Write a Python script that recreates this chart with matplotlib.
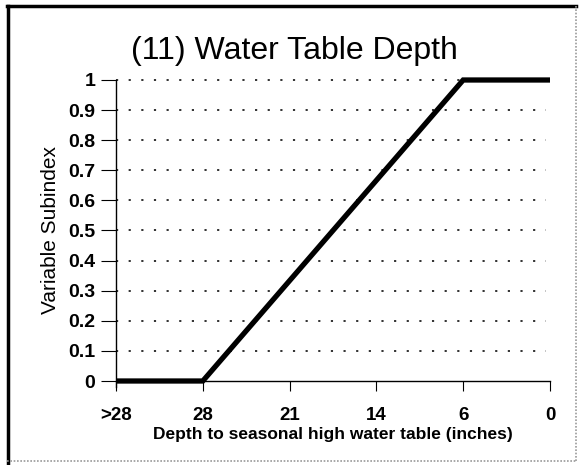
import matplotlib
matplotlib.use("Agg")
import matplotlib.pyplot as plt
from matplotlib.lines import Line2D

# Data
tick_labels = [">28", "28", "21", "14", "6", "0"]
tick_pos = [0, 1, 2, 3, 4, 5]
line_x = [0, 1, 4, 5]          # positions: >28, 28, 6, 0
line_y = [0.0, 0.0, 1.0, 1.0]
y_ticks = [0, 0.1, 0.2, 0.3, 0.4, 0.5, 0.6, 0.7, 0.8, 0.9, 1]
y_labels = ["0", "0.1", "0.2", "0.3", "0.4", "0.5", "0.6", "0.7", "0.8", "0.9", "1"]

W, H = 579, 465
fig = plt.figure(figsize=(W / 100, H / 100), dpi=100)
plt.rcParams['font.family'] = ['Liberation Sans', 'DejaVu Sans']

x0, x1 = 116, 550
ytop, ybot = 80, 381
ax = fig.add_axes([x0 / W, (H - ybot) / H, (x1 - x0) / W, (ybot - ytop) / H])
ax.set_xlim(0, 5)
ax.set_ylim(0, 1)

# grid lines (dotted), stopping a little short of the right end
for yv in y_ticks[1:]:
    ax.plot([0, 4.95], [yv, yv], color="#222222", lw=1.3,
            linestyle=(0, (1.2, 5.8)), zorder=1, clip_on=False)

ax.plot(line_x, line_y, color="black", lw=3.8, solid_capstyle="butt",
        solid_joinstyle="miter", zorder=3, clip_on=False)

for s in ["top", "right"]:
    ax.spines[s].set_visible(False)
ax.spines["left"].set_linewidth(1.0)
ax.spines["bottom"].set_linewidth(1.0)
ax.spines["left"].set_bounds(-0.02, 1)

ax.set_yticks(y_ticks)
ax.set_yticklabels(y_labels, fontsize=14, fontweight="bold")
ax.set_xticks(tick_pos)
ax.set_xticklabels(tick_labels, fontsize=13.5, fontweight="bold")
ax.tick_params(axis="y", direction="out", length=11, width=0.8, pad=4)
ax.tick_params(axis="x", direction="out", length=7, width=0.8, pad=12)

ax.set_xlabel("Depth to seasonal high water table (inches)", fontsize=12.5,
              fontweight="bold", labelpad=2)
ax.set_ylabel("Variable Subindex", fontsize=15, labelpad=6)
fig.text(0.5 + 5 / W, 1 - 51 / H, "(11) Water Table Depth", fontsize=23,
         ha="center", va="center")

# figure border
fig.add_artist(Line2D([8 / W, 8 / W], [0, 1 - 6 / H], color="black", lw=2.5,
                      transform=fig.transFigure))
fig.add_artist(Line2D([7 / W, 1 - 3 / W], [1 - 6.5 / H, 1 - 6.5 / H],
                      color="black", lw=2.5, transform=fig.transFigure))
fig.add_artist(Line2D([1 - 3.5 / W, 1 - 3.5 / W], [4 / H, 1 - 6 / H],
                      color="#999999", lw=1.2, linestyle=(0, (1, 1)),
                      transform=fig.transFigure))
fig.add_artist(Line2D([7 / W, 1 - 3 / W], [4 / H, 4 / H],
                      color="#999999", lw=1.2, linestyle=(0, (1, 1)),
                      transform=fig.transFigure))

fig.savefig("out.png", dpi=100)
